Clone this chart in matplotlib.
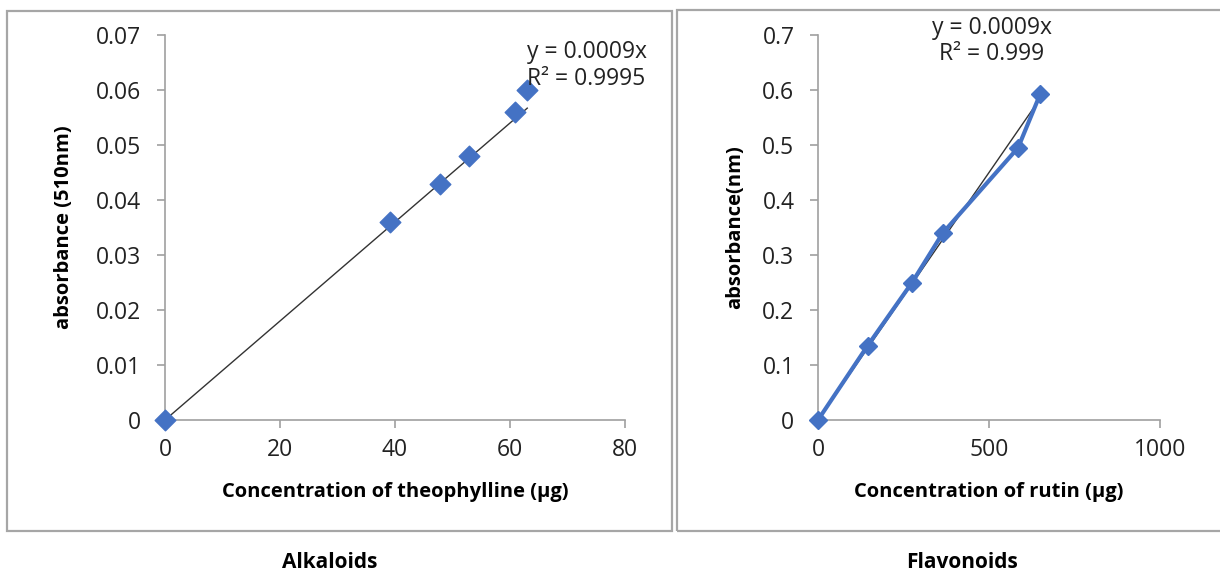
import matplotlib

matplotlib.use("Agg")

import matplotlib.pyplot as plt
from matplotlib.patches import Rectangle
import numpy as np

plt.rcParams["font.family"] = ["Open Sans", "DejaVu Sans"]

# Alkaloids (theophylline standard)
alk_x = [0, 39.2, 47.8, 52.9, 60.8, 63.0]
alk_y = [0, 0.036, 0.043, 0.048, 0.056, 0.060]
alk_slope = 0.0009
alk_eq = "y = 0.0009x\nR² = 0.9995"

# Flavonoids (rutin standard)
flav_x = [0, 145, 275, 365, 585, 650]
flav_y = [0, 0.135, 0.25, 0.34, 0.495, 0.593]
flav_slope = 0.0009
flav_eq = "y = 0.0009x\nR² = 0.999"

BLUE = "#4472C4"
GRID = "#a0a0a0"
TICK_FS = 16.5
LABEL_FS = 14.5


def style_axes(ax, xticks, yticks, ylabels):
    for side in ["top", "right"]:
        ax.spines[side].set_visible(False)
    for side in ["left", "bottom"]:
        ax.spines[side].set_color(GRID)
        ax.spines[side].set_linewidth(1.2)
    ax.set_xticks(xticks)
    ax.set_yticks(yticks, labels=ylabels)
    ax.tick_params(axis="both", colors=GRID, length=6, width=1.2, labelsize=TICK_FS, labelcolor="#222222")
    ax.tick_params(axis="y", pad=11)
    ax.tick_params(axis="x", pad=7)
    ax.set_xlim(xticks[0], xticks[-1])
    ax.set_ylim(yticks[0], yticks[-1])


fig = plt.figure(figsize=(12.2, 5.77), dpi=100)

# panel frames
fig.patches.append(Rectangle((7 / 1220, 46 / 577), 665 / 1220, 520 / 577, transform=fig.transFigure,
                             fill=False, edgecolor="#a6a6a6", lw=1.6))
fig.patches.append(Rectangle((677 / 1220, 46 / 577), 560 / 1220, 521 / 577, transform=fig.transFigure,
                             fill=False, edgecolor="#a6a6a6", lw=1.6))

# left chart
ax1 = fig.add_axes([165 / 1220, 157 / 577, 460 / 1220, 385 / 577])
xs = np.array([0, max(alk_x)])
ax1.plot(xs, alk_slope * xs, color="#333333", lw=1.0, zorder=2)
ax1.scatter(alk_x, alk_y, marker="D", s=110, color=BLUE, zorder=3, clip_on=False)
style_axes(ax1, [0, 20, 40, 60, 80], np.arange(0, 0.071, 0.01),
           ["0", "0.01", "0.02", "0.03", "0.04", "0.05", "0.06", "0.07"])
ax1.set_xlabel("Concentration of theophylline (µg)", fontsize=LABEL_FS, fontweight="bold", labelpad=14)
ax1.set_ylabel("absorbance (510nm)", fontsize=LABEL_FS, fontweight="bold", labelpad=16)
ax1.text(63.0, 0.0690, alk_eq, fontsize=TICK_FS, color="#222222", va="top", ha="left", linespacing=1.15)
fig.text(330 / 1220, 1 - 562 / 577, "Alkaloids", fontsize=15, fontweight="bold", ha="center", va="center")

# right chart
ax2 = fig.add_axes([818 / 1220, 157 / 577, 342 / 1220, 385 / 577])
xs = np.array([0, max(flav_x)])
ax2.plot(xs, flav_slope * xs, color="#333333", lw=1.0, zorder=2)
ax2.plot(flav_x, flav_y, color=BLUE, lw=3, marker="D", markersize=9, zorder=3, clip_on=False)
style_axes(ax2, [0, 500, 1000], np.arange(0, 0.71, 0.1),
           ["0", "0.1", "0.2", "0.3", "0.4", "0.5", "0.6", "0.7"])
ax2.set_xlabel("Concentration of rutin (µg)", fontsize=LABEL_FS, fontweight="bold", labelpad=14)
ax2.set_ylabel("absorbance(nm)", fontsize=LABEL_FS, fontweight="bold", labelpad=12)
ax2.text(508, 0.735, flav_eq, fontsize=TICK_FS, color="#222222", va="top", ha="center", linespacing=1.15)
fig.text(962 / 1220, 1 - 562 / 577, "Flavonoids", fontsize=15, fontweight="bold", ha="center", va="center")

fig.savefig("out.png", dpi=100)
plt.close(fig)
